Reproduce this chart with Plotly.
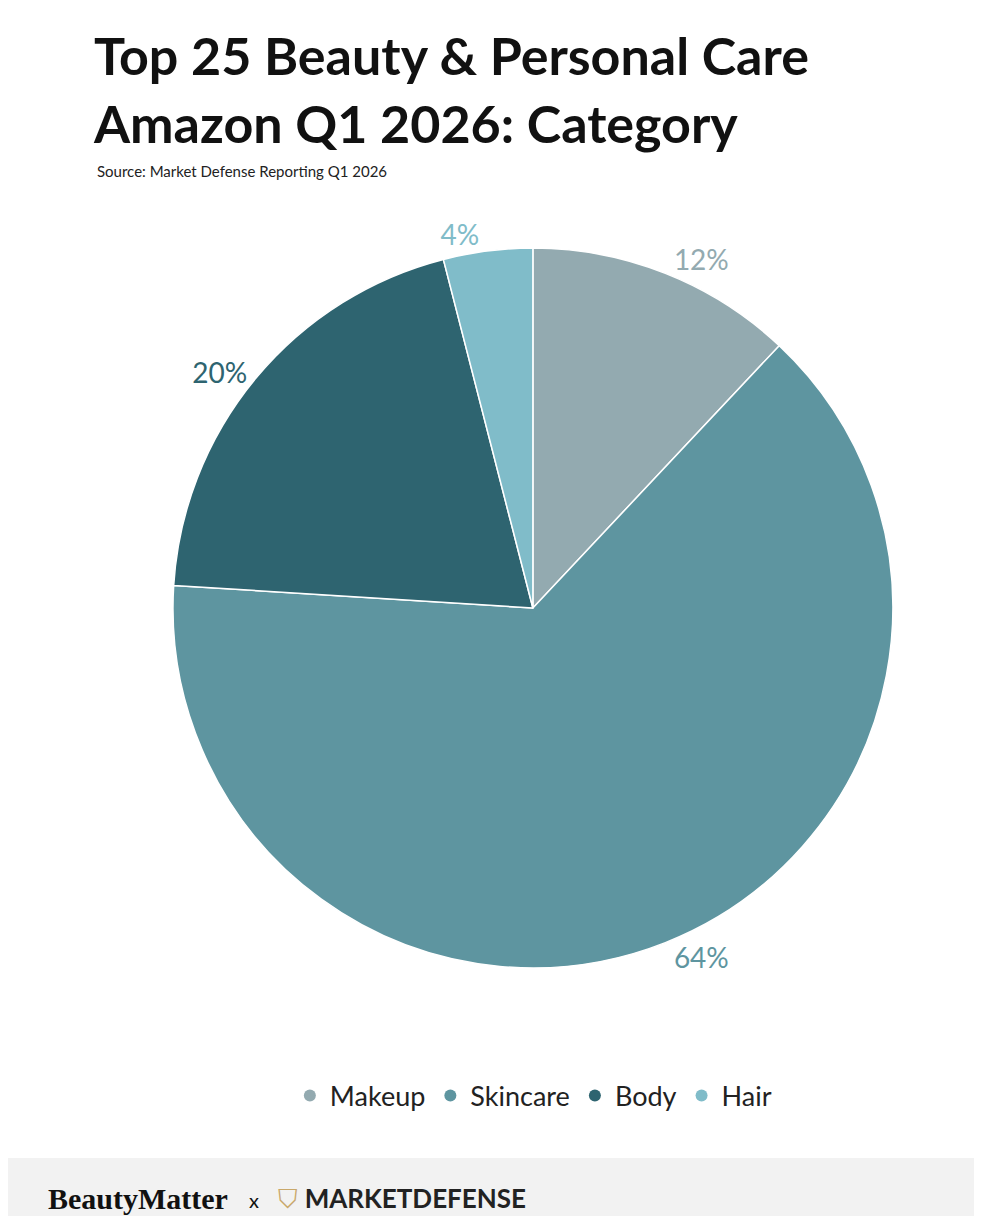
import plotly.graph_objects as go

# données
categories = ["Makeup", "Skincare", "Body", "Hair"]
shares = [12, 64, 20, 4]
colors = ["#93aab0", "#5e95a0", "#2e6470", "#80bcc9"]

W, H = 982, 1216

fig = go.Figure()

fig.add_trace(go.Pie(
    labels=categories,
    values=shares,
    sort=False,
    direction="clockwise",
    rotation=0,
    marker=dict(colors=colors, line=dict(color="white", width=1.5)),
    texttemplate="%{value}%",
    textposition="outside",
    textfont=dict(family="Lato", size=28, color=colors),
    showlegend=False,
    hoverinfo="label+percent",
    domain=dict(x=[0.168, 0.901], y=[1 - 960 / H, 1 - 240 / H]),
))

# légende avec pastilles rondes
for name, col in zip(categories, colors):
    fig.add_trace(go.Scatter(
        x=[None], y=[None], mode="markers", name=name,
        marker=dict(symbol="circle", size=30, color=col),
    ))

fig.update_xaxes(visible=False)
fig.update_yaxes(visible=False)

# bandeau du bas
fig.add_shape(type="rect", xref="paper", yref="paper",
              x0=0, x1=1, y0=0, y1=1 - 1150 / H,
              fillcolor="#f2f2f2", line_width=0, layer="below")

fig.add_annotation(
    text="<b>Top 25 Beauty & Personal Care<br>Amazon Q1 2026: Category</b>",
    xref="paper", yref="paper", x=83 / W, y=1 - 14 / H,
    xanchor="left", yanchor="top", align="left", showarrow=False,
    font=dict(family="Lato", size=52, color="#111111"),
)
fig.add_annotation(
    text="Source: Market Defense Reporting Q1 2026",
    xref="paper", yref="paper", x=87 / W, y=1 - 163 / H,
    xanchor="left", yanchor="middle", showarrow=False,
    font=dict(family="Lato", size=15, color="#222222"),
)
fig.add_annotation(
    text="<b>BeautyMatter</b>",
    xref="paper", yref="paper", x=38 / W, y=1 - 1190 / H,
    xanchor="left", yanchor="middle", showarrow=False,
    font=dict(family="Liberation Serif", size=30, color="#111111"),
)
fig.add_annotation(
    text="x",
    xref="paper", yref="paper", x=246 / W, y=1 - 1192 / H,
    xanchor="center", yanchor="middle", showarrow=False,
    font=dict(family="Lato", size=20, color="#111111"),
)
fig.add_annotation(
    text="<span style='color:#c9a86a'>⛉</span> <b>MARKETDEFENSE</b>",
    xref="paper", yref="paper", x=268 / W, y=1 - 1190 / H,
    xanchor="left", yanchor="middle", showarrow=False,
    font=dict(family="Lato", size=26, color="#222222"),
)

fig.update_layout(
    width=W, height=H,
    margin=dict(l=0, r=0, t=0, b=0),
    paper_bgcolor="white", plot_bgcolor="white",
    legend=dict(orientation="h", x=0.535, xanchor="center",
                y=1 - 1088 / H, yanchor="middle",
                font=dict(family="Lato", size=27, color="#222222"),
                itemsizing="constant"),
)

fig.write_html("out.html")
